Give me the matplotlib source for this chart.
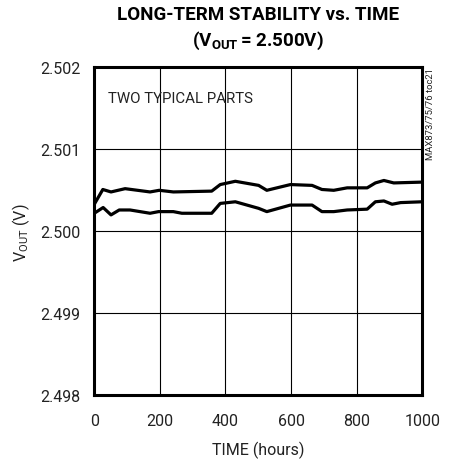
import numpy as np
import matplotlib.pyplot as plt

# datos (horas, voltios)
t_upper = [0, 26, 51, 94, 170, 198, 241, 358, 384, 430, 501, 526, 598, 664, 694, 730, 771, 832, 857, 883, 913, 1000]
v_upper = [2.50033, 2.50051, 2.50048, 2.50052, 2.50048, 2.50050, 2.50048, 2.50049, 2.50057, 2.50061,
           2.50056, 2.50050, 2.50057, 2.50056, 2.50051, 2.50050, 2.50053, 2.50053, 2.50059, 2.50062,
           2.50059, 2.50060]

t_lower = [0, 27, 51, 76, 109, 170, 196, 241, 267, 358, 384, 430, 501, 526, 598, 664, 694, 730, 771,
           832, 857, 883, 908, 934, 1000]
v_lower = [2.50022, 2.50029, 2.50020, 2.50026, 2.50026, 2.50022, 2.50024, 2.50024, 2.50022, 2.50022,
           2.50034, 2.50036, 2.50028, 2.50024, 2.50032, 2.50032, 2.50024, 2.50024, 2.50026, 2.50027,
           2.50036, 2.50037, 2.50033, 2.50035, 2.50036]

x_ticks = [0, 200, 400, 600, 800, 1000]
y_ticks = [2.498, 2.499, 2.500, 2.501, 2.502]

plt.rcParams['font.family'] = ['Roboto', 'DejaVu Sans']
plt.rcParams['mathtext.fontset'] = 'custom'
plt.rcParams['mathtext.rm'] = 'Roboto'
plt.rcParams['mathtext.bf'] = 'Roboto:bold'

fig = plt.figure(figsize=(4.49, 4.60), dpi=100)
ax = fig.add_axes([0.21, 0.1385, 0.7305, 0.713])

ax.plot(t_upper, v_upper, color='black', linewidth=2.3)
ax.plot(t_lower, v_lower, color='black', linewidth=2.3)

ax.set_xlim(0, 1000)
ax.set_ylim(2.498, 2.502)
ax.set_xticks(x_ticks)
ax.set_yticks(y_ticks)
ax.set_yticklabels([f'{v:.3f}' for v in y_ticks])
ax.tick_params(length=0, labelsize=11.5, colors='#222222')
ax.tick_params(axis='y', pad=10)
ax.tick_params(axis='x', pad=13)
ax.grid(True, color='black', linewidth=0.8)
for s in ax.spines.values():
    s.set_linewidth(2.2)

ax.set_xlabel('TIME (hours)', fontsize=11.5, color='#222222', labelpad=9)
ax.set_ylabel(r'V$_{\mathrm{OUT}}$ (V)', fontsize=11.5, color='#222222', labelpad=6)

ax.text(0.042, 0.905, 'TWO TYPICAL PARTS', transform=ax.transAxes, fontsize=10.8,
        color='#222222', va='center', ha='left')

fig.text(0.575, 0.967, 'LONG-TERM STABILITY vs. TIME', ha='center', va='center',
         fontsize=13.5, fontweight='bold')
fig.text(0.575, 0.912, r'$\mathbf{(V_{OUT} = 2.500V)}$', ha='center', va='center',
         fontsize=13.5)

fig.text(0.959, 0.852, 'MAX873/75/76 toc21', rotation=90, ha='center', va='top',
         fontsize=6.8, color='#222222')

fig.savefig('out.png', dpi=100)
